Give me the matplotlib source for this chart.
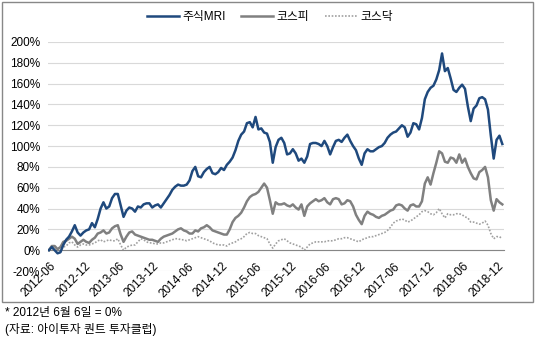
# -*- coding:utf-8 -*-
import pandas as pd
import matplotlib.pyplot as plt
from matplotlib.patches import Rectangle
from matplotlib.transforms import ScaledTranslation

# 라틴 문자는 Liberation Sans, 한글은 Noto Sans CJK KR
plt.rcParams['font.family'] = ['Liberation Sans', 'Noto Sans CJK KR']

# 2012-06-06 = 0%, 대략 보름 간격으로 읽은 값 (%)
dates = pd.date_range('2012-06-06', '2019-01-05', periods=159)

mri = [0, 3, 0, -3, -2, 5, 10, 13, 18, 24,
       17, 14, 17, 19, 20, 26, 22, 30, 40, 46,
       40, 42, 50, 54, 54, 43, 32, 38, 41, 40,
       37, 42, 41, 44, 45, 45, 41, 43, 44, 41,
       45, 49, 53, 58, 61, 63, 62, 62, 63, 67,
       76, 80, 71, 70, 75, 78, 80, 74, 73, 75,
       79, 77, 82, 85, 89, 96, 105, 111, 114, 122,
       123, 118, 128, 116, 117, 113, 112, 104, 84, 99,
       106, 108, 103, 92, 93, 97, 93, 86, 88, 84,
       90, 102, 103, 103, 102, 100, 105, 100, 92, 99,
       105, 106, 104, 108, 111, 105, 100, 96, 88, 82,
       93, 97, 95, 95, 97, 99, 100, 103, 108, 111,
       113, 114, 117, 120, 118, 109, 113, 122, 121, 116,
       127, 145, 152, 156, 158, 164, 173, 189, 172, 175,
       165, 154, 152, 156, 159, 155, 138, 124, 136, 139,
       146, 147, 145, 135, 110, 88, 106, 110, 102]

kospi = [0, 4, 4, 1, 3, 8, 9, 11, 13, 11,
         6, 8, 10, 8, 7, 10, 12, 16, 17, 19,
         16, 17, 21, 23, 24, 15, 8, 13, 17, 18,
         15, 14, 13, 12, 11, 10, 10, 9, 8, 11,
         13, 14, 15, 16, 18, 20, 21, 19, 18, 16,
         16, 19, 18, 21, 22, 24, 22, 19, 18, 17,
         16, 15, 15, 20, 27, 31, 33, 36, 41, 47,
         51, 53, 54, 56, 60, 64, 60, 48, 35, 46,
         44, 44, 45, 43, 42, 44, 41, 39, 44, 33,
         42, 45, 47, 49, 47, 48, 50, 46, 44, 49,
         50, 49, 44, 45, 48, 47, 42, 34, 29, 25,
         33, 37, 35, 34, 32, 31, 33, 34, 36, 38,
         39, 43, 44, 43, 40, 38, 43, 44, 42, 42,
         47, 64, 70, 63, 74, 84, 95, 93, 85, 84,
         89, 88, 84, 92, 84, 88, 80, 74, 69, 68,
         75, 77, 80, 70, 48, 38, 49, 46, 44]

kosdaq = [0, 1, 3, 2, 1, 3, 4, 7, 8, 5,
          3, 5, 6, 5, 5, 6, 7, 9, 10, 8,
          9, 10, 9, 9, 11, 5, 0, 3, 4, 5,
          5, 8, 11, 10, 8, 7, 7, 6, 6, 7,
          7, 8, 9, 10, 11, 11, 10, 10, 9, 10,
          11, 12, 13, 12, 11, 10, 9, 7, 6, 5,
          5, 5, 4, 6, 7, 8, 10, 11, 13, 16,
          17, 16, 16, 14, 13, 12, 11, 6, 2, 6,
          9, 10, 11, 9, 7, 6, 5, 4, 3, 0,
          3, 6, 7, 8, 8, 8, 8, 9, 9, 9,
          10, 11, 11, 12, 12, 11, 10, 9, 8, 10,
          11, 12, 13, 13, 14, 15, 16, 17, 19, 22,
          26, 28, 29, 30, 29, 27, 28, 30, 32, 34,
          37, 38, 37, 35, 34, 36, 40, 35, 31, 35,
          34, 34, 35, 35, 34, 32, 31, 27, 27, 26,
          25, 26, 28, 24, 16, 11, 13, 13, 11]

labels = ['주식MRI', '코스피', '코스닥']
ticks = pd.date_range('2012-06-01', '2018-12-01', freq='6MS')
yvals = list(range(-20, 201, 20))

fig = plt.figure(figsize=(5.37, 3.43), dpi=100)
ax = fig.add_axes([48 / 537, 72 / 343, 456 / 537, 229 / 343])

ax.plot(dates, mri, color='#1f497d', lw=1.8, label=labels[0], zorder=4)
ax.plot(dates, kospi, color='#808080', lw=1.8, label=labels[1], zorder=3)
ax.plot(dates, kosdaq, color='#a0a0a0', lw=1.2, ls=(0, (1, 1)), label=labels[2], zorder=2)

# 엑셀처럼 가로축을 0% 위치에
for s in ['top', 'right', 'left']:
    ax.spines[s].set_visible(False)
ax.spines['bottom'].set_position(('data', 0))
ax.spines['bottom'].set_color('#868686')
ax.grid(axis='y', color='#d9d9d9', lw=0.8)
ax.set_axisbelow(True)
ax.tick_params(length=0, labelsize=8.5, colors='#000000')
ax.tick_params(axis='y', pad=5.5)
ax.tick_params(axis='x', pad=9)

ax.set_ylim(-20, 200)
ax.set_yticks(yvals)
ax.set_yticklabels(['%d%%' % v for v in yvals])
ax.set_xlim(pd.Timestamp('2012-06-01'), pd.Timestamp('2019-01-14'))
ax.set_xticks(ticks)
ax.set_xticklabels([d.strftime('%Y-%m') for d in ticks])
shift = ScaledTranslation(0.06, -0.02, fig.dpi_scale_trans)
for lbl in ax.get_xticklabels():
    lbl.set_rotation(45)
    lbl.set_rotation_mode('anchor')
    lbl.set_ha('right')
    lbl.set_va('center')
    lbl.set_transform(lbl.get_transform() + shift)

fig.legend(loc='center', bbox_to_anchor=(0.503, 0.95), ncol=3, frameon=False,
           fontsize=8.5, handlelength=2.7, handletextpad=0.3, columnspacing=1.3)

fig.text(5 / 537, 1 - 313 / 343, '* 2012년 6월 6일 = 0%', va='center', fontsize=8.5)
fig.text(5 / 537, 1 - 330 / 343, '(자료: 아이투자 퀀트 투자클럽)', va='center', fontsize=8.5)

# 차트 테두리
fig.patches.append(Rectangle((2 / 537, 1 - 302 / 343), 531 / 537, 300 / 343,
                             transform=fig.transFigure, fill=False, ec='#888888', lw=1))

fig.savefig('out.png', dpi=100)
